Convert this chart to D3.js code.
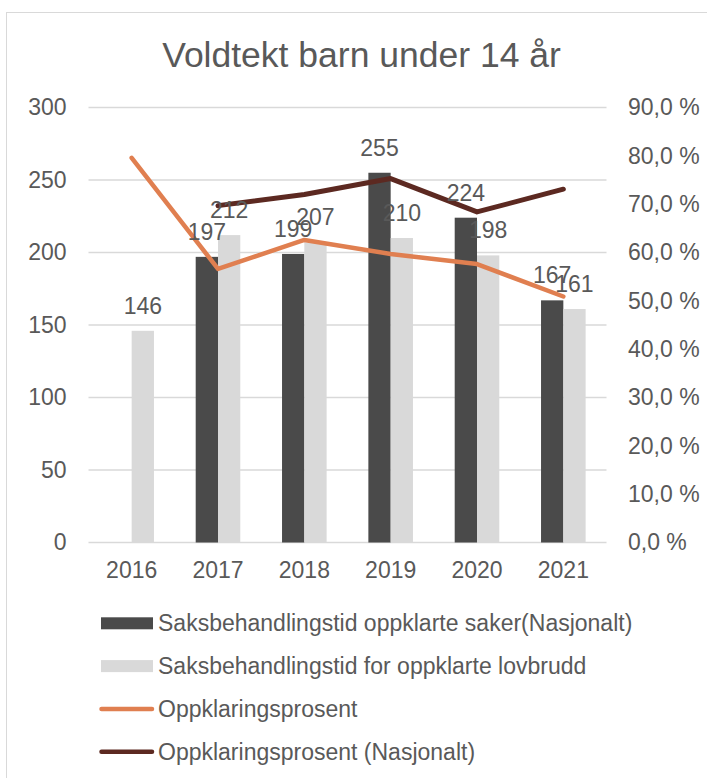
<!DOCTYPE html>
<html lang="no">
<head>
    <meta charset="UTF-8">
    <title>Voldtekt barn under 14 år</title>
    <script src="https://d3js.org/d3.v7.min.js"></script>
    <style>
        body { margin: 0; background: #fff; }
        text { font-family: "Liberation Sans", Arial, sans-serif; fill: #595959; }
    </style>
</head>
<body>
    <svg width="707" height="778"></svg>
    <script>
        const years = ['2016', '2017', '2018', '2019', '2020', '2021'];
        const tidNasjonalt = [null, 197, 199, 255, 224, 167];
        const tidLokalt = [146, 212, 207, 210, 198, 161];
        const prosent = [79.6, 56.6, 62.6, 59.7, 57.6, 50.9];
        const prosentNasjonalt = [null, 69.7, 72.0, 75.3, 68.4, 73.1];
        const leftTicks = [0, 50, 100, 150, 200, 250, 300];
        const rightTicks = [0, 10, 20, 30, 40, 50, 60, 70, 80, 90];

        const svg = d3.select('svg');
        const plotLeft = 88.5, plotRight = 606.5, plotTop = 107.5, plotBottom = 542.5;
        const fs = '23px';

        // chart border
        svg.append('rect')
            .attr('x', 6.5).attr('y', 12.5)
            .attr('width', 720).attr('height', 800)
            .attr('fill', 'none').attr('stroke', '#d9d9d9');

        svg.append('text')
            .attr('x', 361.5).attr('y', 66.5)
            .attr('text-anchor', 'middle')
            .style('font-size', '35.5px')
            .text('Voldtekt barn under 14 år');

        const x = d3.scaleBand().domain(years).range([plotLeft, plotRight]);
        const y = d3.scaleLinear().domain([0, 300]).range([plotBottom, plotTop]);
        const y2 = d3.scaleLinear().domain([0, 90]).range([plotBottom, plotTop]);
        const barW = 22.3;

        // gridlines
        svg.append('g')
            .selectAll('line').data(leftTicks).join('line')
            .attr('x1', plotLeft).attr('x2', plotRight)
            .attr('y1', d => y(d)).attr('y2', d => y(d))
            .attr('stroke', '#d9d9d9').attr('stroke-width', 1.3);

        // left axis
        const yAxis = d3.axisLeft(y).tickValues(leftTicks).tickSize(0).tickPadding(22);
        const gl = svg.append('g').attr('transform', `translate(${plotLeft},0)`).call(yAxis);
        gl.select('.domain').remove();
        gl.selectAll('text').style('font-size', fs).attr('fill', '#595959');

        // right axis
        const y2Axis = d3.axisRight(y2).tickValues(rightTicks).tickSize(0).tickPadding(21.5)
            .tickFormat(d => d3.format('.1f')(d).replace('.', ',') + ' %');
        const gr = svg.append('g').attr('transform', `translate(${plotRight},0)`).call(y2Axis);
        gr.select('.domain').remove();
        gr.selectAll('text').style('font-size', fs).attr('fill', '#595959');

        // bottom axis
        const xAxis = d3.axisBottom(x).tickSize(0).tickPadding(19);
        const gx = svg.append('g').attr('transform', `translate(0,${plotBottom})`).call(xAxis);
        gx.select('.domain').remove();
        gx.selectAll('text').style('font-size', fs).attr('fill', '#595959');

        const cx = d => x(d) + x.bandwidth() / 2;

        // bars
        const dark = years.map((d, i) => ({ year: d, v: tidNasjonalt[i] })).filter(d => d.v != null);
        const light = years.map((d, i) => ({ year: d, v: tidLokalt[i] }));

        svg.append('g').selectAll('rect').data(dark).join('rect')
            .attr('x', d => cx(d.year) - barW).attr('width', barW)
            .attr('y', d => y(d.v)).attr('height', d => y(0) - y(d.v))
            .attr('fill', '#4a4a4a');
        svg.append('g').selectAll('rect').data(light).join('rect')
            .attr('x', d => cx(d.year)).attr('width', barW)
            .attr('y', d => y(d.v)).attr('height', d => y(0) - y(d.v))
            .attr('fill', '#d9d9d9');

        // lines
        const line = d3.line()
            .defined(d => d.v != null)
            .x(d => cx(d.year)).y(d => y2(d.v));
        svg.append('path')
            .datum(years.map((d, i) => ({ year: d, v: prosent[i] })))
            .attr('d', line).attr('fill', 'none')
            .attr('stroke', '#e07f50').attr('stroke-width', 4.5)
            .attr('stroke-linecap', 'round').attr('stroke-linejoin', 'round');
        svg.append('path')
            .datum(years.map((d, i) => ({ year: d, v: prosentNasjonalt[i] })).filter(d => d.v != null))
            .attr('d', line).attr('fill', 'none')
            .attr('stroke', '#5c2921').attr('stroke-width', 5)
            .attr('stroke-linecap', 'round').attr('stroke-linejoin', 'round');

        // data labels
        svg.append('g').selectAll('text').data(dark).join('text')
            .attr('x', d => cx(d.year) - barW / 2).attr('y', d => y(d.v) - 17)
            .attr('text-anchor', 'middle').style('font-size', fs).attr('fill', '#404040')
            .text(d => d.v);
        svg.append('g').selectAll('text').data(light).join('text')
            .attr('x', d => cx(d.year) + barW / 2).attr('y', d => y(d.v) - 17)
            .attr('text-anchor', 'middle').style('font-size', fs).attr('fill', '#404040')
            .text(d => d.v);

        // legend
        const legend = [
            { name: 'Saksbehandlingstid oppklarte saker(Nasjonalt)', type: 'bar', color: '#4a4a4a' },
            { name: 'Saksbehandlingstid for oppklarte lovbrudd', type: 'bar', color: '#d9d9d9' },
            { name: 'Oppklaringsprosent', type: 'line', color: '#e07f50' },
            { name: 'Oppklaringsprosent (Nasjonalt)', type: 'line', color: '#5c2921' }
        ];
        const lg = svg.append('g').selectAll('g').data(legend).join('g')
            .attr('transform', (d, i) => `translate(101,${623.3 + i * 42.8})`);
        lg.filter(d => d.type === 'bar').append('rect')
            .attr('x', 0).attr('y', -6).attr('width', 52).attr('height', 12)
            .attr('fill', d => d.color);
        lg.filter(d => d.type === 'line').append('line')
            .attr('x1', 0.5).attr('x2', 51).attr('y1', 0).attr('y2', 0)
            .attr('stroke', d => d.color).attr('stroke-width', 4.5)
            .attr('stroke-linecap', 'round');
        lg.append('text')
            .attr('x', 57).attr('y', 8)
            .style('font-size', fs)
            .text(d => d.name);
    </script>
</body>
</html>
